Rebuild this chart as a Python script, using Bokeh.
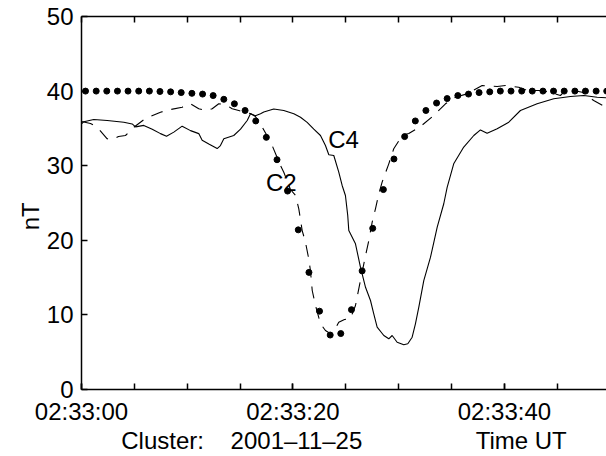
from bokeh.plotting import figure
from bokeh.models import Range1d, LinearAxis, FixedTicker, Label
from bokeh.embed import file_html
from bokeh.resources import INLINE

FONT = "Liberation Sans"
FS = "24px"
NB = "\u00a0"

# time in seconds after 02:33:00 UT; field magnitude in nT
t_model = [0.38, 1.39, 2.39, 3.40, 4.40, 5.41, 6.42, 7.42, 8.43, 9.43,
           10.44, 11.45, 12.45, 13.46, 14.46, 15.47, 16.48, 17.48, 18.49, 19.49,
           20.50, 21.51, 22.51, 23.52, 24.52, 25.53, 26.54, 27.54, 28.55, 29.55,
           30.56, 31.57, 32.57, 33.58, 34.58, 35.59, 36.60, 37.60, 38.61, 39.61,
           40.62, 41.63, 42.63, 43.64, 44.64, 45.65, 46.66, 47.66, 48.67, 49.67]
b_model = [40.0, 40.0, 40.0, 40.0, 40.0, 40.0, 40.0, 39.95, 39.9, 39.8,
           39.7, 39.6, 39.4, 38.9, 38.3, 37.4, 36.0, 33.8, 30.8, 26.6,
           21.4, 15.7, 10.5, 7.3, 7.5, 10.7, 15.9, 21.6, 26.8, 30.9,
           33.9, 36.0, 37.4, 38.4, 39.0, 39.4, 39.6, 39.8, 39.9, 40.0,
           40.0, 40.0, 40.0, 40.0, 40.0, 40.0, 40.0, 40.0, 40.0, 40.0]

t_c2 = [0.0, 0.85, 1.48, 2.43, 2.93, 3.50, 4.16, 4.95, 6.05, 7.47,
        8.42, 9.52, 10.31, 11.09, 11.73, 12.36, 12.98, 13.62, 14.25, 14.87,
        15.51, 15.98, 16.45, 17.09, 17.71, 18.03, 18.82, 19.13, 19.76, 20.24,
        20.55, 20.87, 21.18, 21.49, 21.65, 21.82, 22.13, 22.60, 23.07, 23.55,
        23.92, 24.33, 24.87, 25.44, 25.91, 26.38, 26.86, 27.17, 27.49, 27.80,
        28.12, 28.43, 29.06, 29.53, 30.33, 30.95, 32.06, 33.31, 34.42, 35.37,
        36.47, 37.89, 39.31, 40.09, 41.35, 42.15, 43.40, 44.35, 45.29, 45.93,
        46.55, 47.35, 48.44, 49.65]
b_c2 = [35.92, 35.66, 35.16, 33.61, 33.51, 33.91, 34.05, 35.16, 36.33, 37.17,
        37.53, 37.84, 38.30, 37.63, 37.40, 37.63, 38.30, 38.20, 37.63, 37.40,
        37.13, 37.00, 36.60, 35.16, 33.61, 32.71, 30.03, 29.13, 26.81, 26.01,
        24.22, 21.31, 19.75, 17.52, 15.95, 13.27, 11.26, 8.81, 7.91, 7.47,
        7.91, 9.02, 9.38, 9.52, 11.26, 14.61, 17.96, 19.97, 22.43, 24.22,
        26.23, 27.79, 30.25, 32.27, 34.05, 34.32, 35.25, 36.73, 38.30, 39.18,
        39.64, 40.75, 40.62, 40.75, 40.52, 40.08, 40.08, 39.85, 39.41, 40.31,
        40.08, 39.85, 38.74, 37.80]

t_c4 = [0.0, 0.22, 1.16, 2.43, 4.00, 4.79, 5.11, 5.89, 6.69, 7.47,
        8.04, 8.73, 9.52, 10.31, 11.09, 11.41, 12.04, 12.83, 13.14, 13.46,
        14.40, 15.04, 15.67, 15.98, 16.45, 16.93, 17.24, 18.18, 19.13, 20.08,
        20.71, 21.34, 21.97, 22.60, 23.07, 23.39, 23.86, 24.33, 24.65, 24.96,
        25.18, 25.28, 25.91, 26.38, 26.86, 27.33, 27.64, 27.96, 28.59, 29.06,
        29.38, 29.85, 30.48, 30.86, 31.27, 31.58, 31.90, 32.37, 33.00, 33.64,
        34.26, 34.58, 35.20, 36.15, 37.10, 37.73, 38.36, 39.31, 40.41, 41.51,
        43.09, 44.66, 46.24, 47.50, 48.77, 49.65]
b_c4 = [35.6, 35.9, 36.2, 36.06, 35.83, 35.6, 35.2, 35.4, 34.9, 34.3,
        33.95, 34.5, 35.3, 34.7, 34.3, 33.4, 32.9, 32.3, 32.7, 33.6,
        34.05, 34.9, 36.06, 36.96, 36.7, 36.96, 37.2, 37.6, 37.4, 36.96,
        36.5, 35.8, 34.9, 34.05, 32.7, 31.46, 31.37, 29.13, 27.35, 26.0,
        23.3, 21.3, 19.53, 16.4, 13.7, 11.93, 10.15, 8.35, 7.24, 6.8,
        7.24, 6.34, 5.99, 6.13, 7.01, 8.8, 11.03, 14.6, 17.7, 21.76,
        24.9, 27.1, 30.25, 32.5, 34.05, 34.8, 34.36, 34.95, 35.83, 37.4,
        38.3, 38.97, 39.28, 39.4, 39.18, 39.1]

x_label_ticks = [0, 20, 40]
x_tick_text = ["02:33:00", "02:33:20", "02:33:40"]
x_small_ticks = [0, 5, 10, 15, 20, 25, 30, 35, 40, 45, 50]
y_ticks = [0, 10, 20, 30, 40, 50]
bottom_text = ["Cluster:", "2001\u201311\u201325", "Time UT"]

p = figure(width=606, height=456, output_backend="svg", toolbar_location=None,
           x_range=Range1d(0, 49.65), y_range=Range1d(0, 50),
           min_border_left=81, min_border_right=0, min_border_top=16,
           min_border_bottom=67, background_fill_color="white",
           border_fill_color="white")
p.outline_line_color = None
p.grid.grid_line_color = None

xa = p.xaxis[0]
xa.ticker = FixedTicker(ticks=x_label_ticks, minor_ticks=x_small_ticks)
xa.major_label_overrides = dict(zip(x_label_ticks, x_tick_text))
xa.axis_label = (bottom_text[0] + NB * 4 + bottom_text[1] + NB * 17
                 + bottom_text[2])
ya = p.yaxis[0]
ya.ticker = FixedTicker(ticks=y_ticks)
ya.axis_label = "nT" + NB * 4

top = LinearAxis(ticker=FixedTicker(ticks=[], minor_ticks=x_small_ticks),
                 major_label_text_font_size="0px", major_label_standoff=0)
p.add_layout(top, "above")

for ax in (xa, ya, top):
    ax.axis_line_color = "black"
    ax.axis_line_width = 1.5
    ax.major_tick_line_color = "black"
    ax.major_tick_line_width = 1.5
    ax.major_tick_in = 6
    ax.major_tick_out = 0
    ax.minor_tick_line_color = "black"
    ax.minor_tick_line_width = 1.5
    ax.minor_tick_in = 6
    ax.minor_tick_out = 0
    ax.major_label_text_font = FONT
    ax.major_label_text_color = "black"
    ax.axis_label_text_font = FONT
    ax.axis_label_text_font_style = "normal"
    ax.axis_label_text_color = "black"
    ax.axis_label_text_font_size = FS
ya.minor_tick_line_color = None
for ax in (xa, ya):
    ax.major_label_text_font_size = FS
xa.major_label_standoff = 8
ya.major_label_standoff = 8
xa.axis_label_standoff = -1
ya.axis_label_standoff = 0

p.line(t_c4, b_c4, line_color="black", line_width=1.1)
p.line(t_c2, b_c2, line_color="black", line_width=1.1, line_dash="12 9")
p.scatter(t_model, b_model, size=6, marker="circle", fill_color="black",
          line_color="black")

for x, y, text in [(24.78, 33.45, "C4"), (18.9, 27.7, "C2")]:
    p.add_layout(Label(x=x, y=y, text=text, text_font=FONT, text_font_size=FS,
                       text_color="black", text_align="center",
                       text_baseline="middle"))

open("out.html", "w").write(file_html(p, INLINE))
